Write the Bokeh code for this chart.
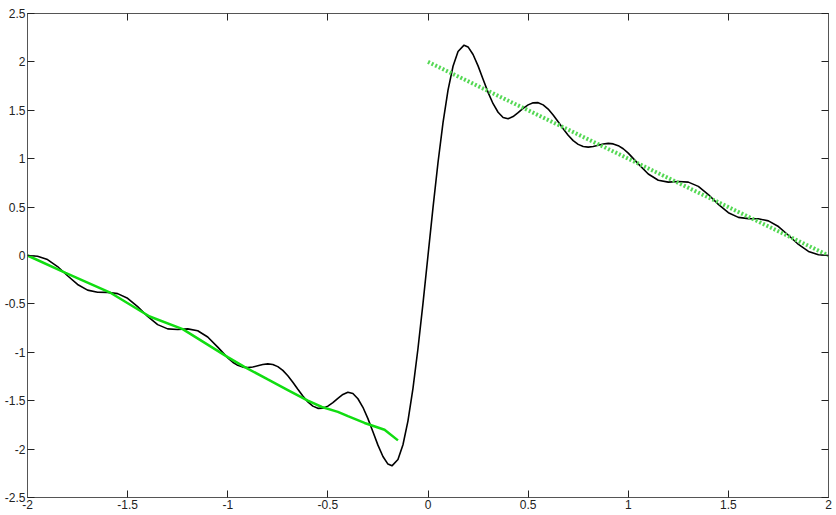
from bokeh.plotting import figure
from bokeh.models import Range1d, FixedTicker, LinearAxis
from bokeh.embed import file_html
from bokeh.resources import INLINE

# ---- data ----
curve_x = [-2.00, -1.95, -1.90, -1.85, -1.80, -1.75, -1.70, -1.65, -1.60, -1.55,
           -1.50, -1.45, -1.40, -1.35, -1.30, -1.25, -1.20, -1.15, -1.10, -1.05,
           -1.00, -0.975, -0.95, -0.925, -0.90, -0.875, -0.85, -0.825, -0.80, -0.775,
           -0.75, -0.725, -0.70, -0.675, -0.65, -0.625, -0.60, -0.575, -0.55, -0.525,
           -0.50, -0.475, -0.45, -0.425, -0.40, -0.375, -0.35, -0.325, -0.30, -0.275,
           -0.25, -0.225, -0.20, -0.18, -0.15, -0.125, -0.10, -0.075, -0.05, -0.025,
           0.0,
           0.025, 0.05, 0.075, 0.10, 0.125, 0.15, 0.18, 0.20, 0.225, 0.25,
           0.275, 0.30, 0.325, 0.35, 0.375, 0.40, 0.425, 0.45, 0.475, 0.50,
           0.525, 0.55, 0.575, 0.60, 0.625, 0.65, 0.675, 0.70, 0.725, 0.75,
           0.775, 0.80, 0.825, 0.85, 0.875, 0.90, 0.925, 0.95, 0.975, 1.00,
           1.05, 1.10, 1.15, 1.20, 1.25, 1.30, 1.35, 1.40, 1.45, 1.50,
           1.55, 1.60, 1.65, 1.70, 1.75, 1.80, 1.85, 1.90, 1.95, 2.00]
curve_y = [0.000, -0.007, -0.042, -0.114, -0.209, -0.299, -0.358, -0.379, -0.381, -0.394,
           -0.442, -0.528, -0.630, -0.714, -0.758, -0.764, -0.758, -0.777, -0.842, -0.947,
           -1.058, -1.103, -1.135, -1.153, -1.158, -1.152, -1.139, -1.126, -1.120, -1.126,
           -1.148, -1.187, -1.242, -1.309, -1.382, -1.452, -1.513, -1.556, -1.579, -1.577,
           -1.556, -1.520, -1.475, -1.435, -1.412, -1.425, -1.480, -1.568, -1.685, -1.821,
           -1.959, -2.077, -2.155, -2.173, -2.108, -1.955, -1.708, -1.372, -0.961, -0.495,
           0.000,
           0.495, 0.961, 1.372, 1.708, 1.955, 2.108, 2.173, 2.155, 2.077, 1.959,
           1.821, 1.685, 1.568, 1.480, 1.425, 1.412, 1.435, 1.475, 1.520, 1.556,
           1.577, 1.579, 1.556, 1.513, 1.452, 1.382, 1.309, 1.242, 1.187, 1.148,
           1.126, 1.120, 1.126, 1.139, 1.152, 1.158, 1.153, 1.135, 1.103, 1.058,
           0.947, 0.842, 0.777, 0.758, 0.764, 0.758, 0.714, 0.630, 0.528, 0.442,
           0.394, 0.381, 0.379, 0.358, 0.299, 0.209, 0.114, 0.042, 0.007, 0.000]

left_x = [-2.00, -1.81, -1.59, -1.39, -1.225, -1.00, -0.917, -0.80, -0.70, -0.60,
          -0.53, -0.45, -0.40, -0.317, -0.217, -0.15]
left_y = [0.00, -0.18, -0.38, -0.63, -0.76, -1.05, -1.15, -1.28, -1.39, -1.50,
          -1.565, -1.615, -1.66, -1.73, -1.80, -1.91]

right_x = [0.0, 2.0]
right_y = [2.0, 0.0]

x_ticks = [-2, -1.5, -1, -0.5, 0, 0.5, 1, 1.5, 2]
x_tick_labels = ["-2", "-1.5", "-1", "-0.5", "0", "0.5", "1", "1.5", "2"]
y_ticks = [-2.5, -2, -1.5, -1, -0.5, 0, 0.5, 1, 1.5, 2, 2.5]
y_tick_labels = ["-2.5", "-2", "-1.5", "-1", "-0.5", "0", "0.5", "1", "1.5", "2", "2.5"]

AX = "#555555"
FONT = "Liberation Sans"

p = figure(frame_width=801, frame_height=484,
           x_range=Range1d(-2, 2), y_range=Range1d(-2.5, 2.5),
           output_backend="svg", toolbar_location=None,
           min_border_left=27, min_border_right=4, min_border_top=13, min_border_bottom=0)
p.xgrid.visible = False
p.ygrid.visible = False
p.outline_line_color = AX
p.background_fill_color = "white"
p.border_fill_color = "white"


def style(ax, ticks, labels=None):
    ax.ticker = FixedTicker(ticks=[float(t) for t in ticks])
    ax.axis_line_color = AX
    ax.major_tick_line_color = "#222222"
    ax.major_tick_in = 7
    ax.major_tick_out = 0
    ax.minor_tick_line_color = None
    if labels is None:
        ax.major_label_text_font_size = "0px"
        ax.major_label_text_color = None
        ax.major_label_standoff = 0
    else:
        ax.major_label_overrides = {float(t): s for t, s in zip(ticks, labels)}
        ax.major_label_text_font = FONT
        ax.major_label_text_font_size = "12px"
        ax.major_label_text_color = "#222222"


style(p.xaxis[0], x_ticks, x_tick_labels)
p.xaxis[0].major_label_standoff = 2
style(p.yaxis[0], y_ticks, y_tick_labels)
p.yaxis[0].major_label_standoff = 2

top = LinearAxis()
style(top, x_ticks)
p.add_layout(top, "above")
right = LinearAxis()
style(right, y_ticks)
p.add_layout(right, "right")

p.line(curve_x, curve_y, line_color="black", line_width=1.6)
p.line(left_x, left_y, line_color="#11dd11", line_width=2.5)
p.line(right_x, right_y, line_color="#55d855", line_width=4, line_dash="2 2")

open("out.html", "w").write(file_html(p, INLINE))
